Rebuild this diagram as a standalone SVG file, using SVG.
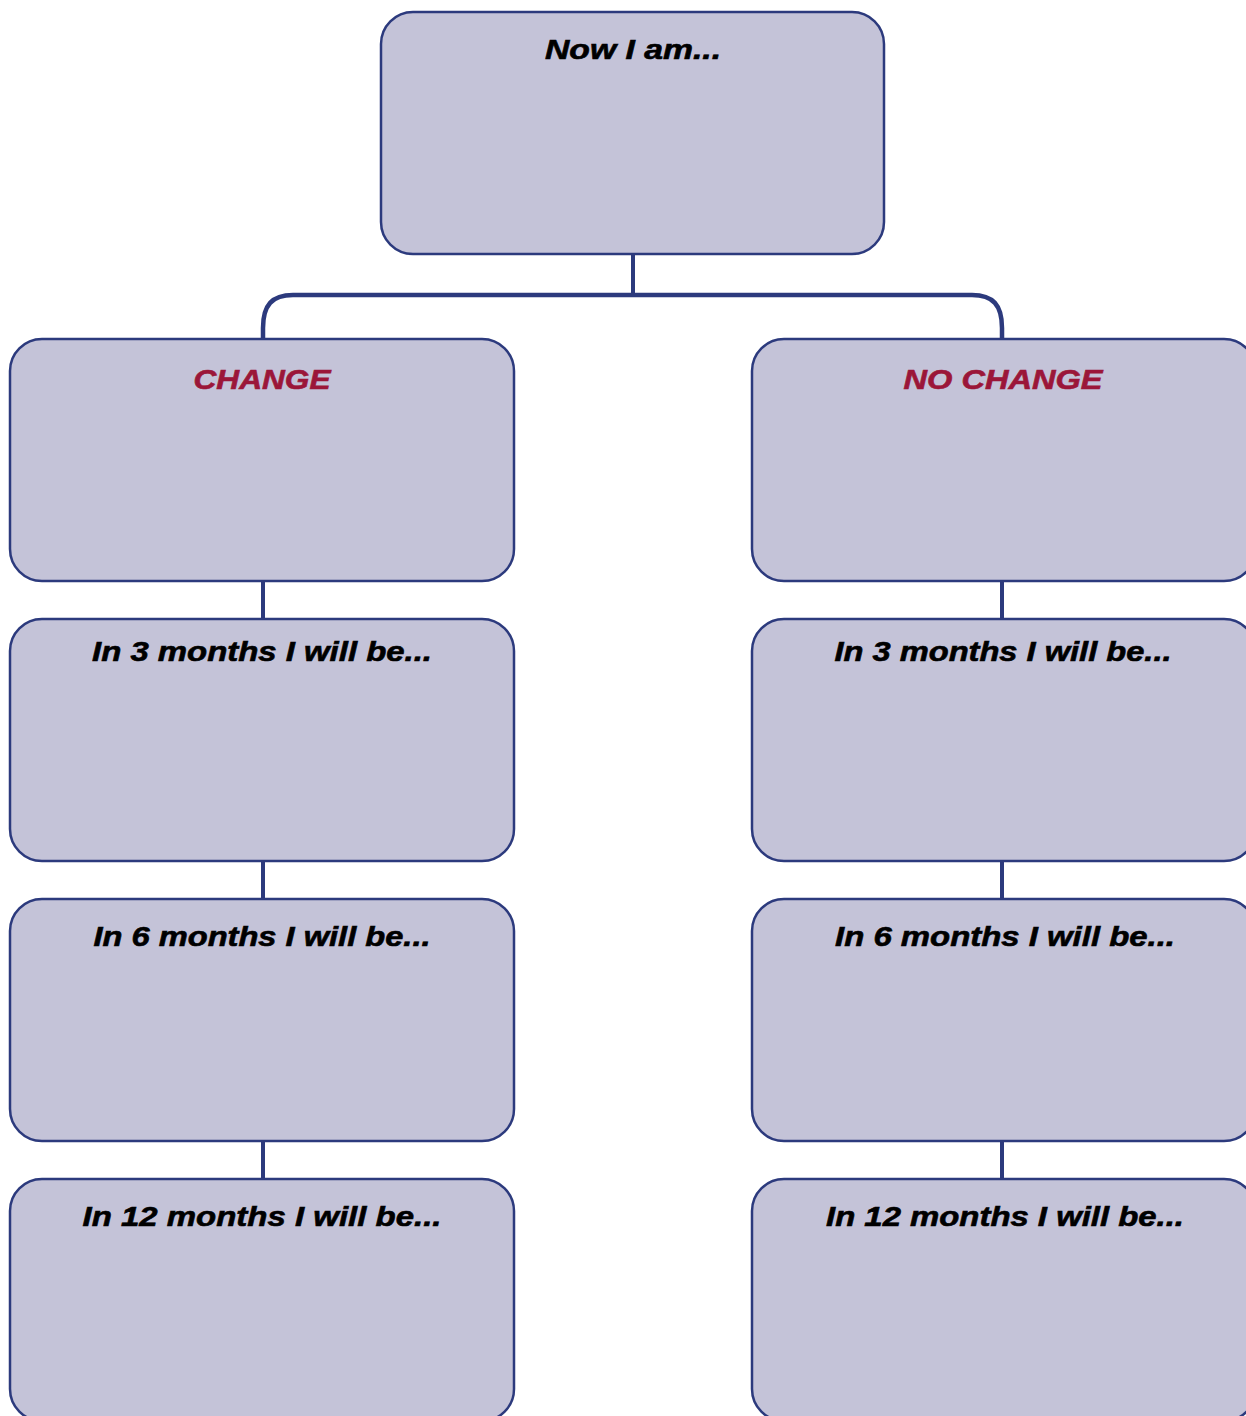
<svg xmlns="http://www.w3.org/2000/svg" width="1246" height="1416" viewBox="0 0 1246 1416">
<style>
.box{fill:#c4c3d8;stroke:#2c3a7d;stroke-width:2.5}
.conn{fill:none;stroke:#2c3a7d;stroke-width:4}
.t{font-family:"Liberation Sans",Arial,sans-serif;font-weight:bold;font-style:italic;font-size:27px;text-anchor:middle;fill:#000;stroke:#000;stroke-width:0.6}
.r{fill:#9b1639;stroke:#9b1639}
</style>
<rect width="1246" height="1416" fill="#fff"/>
<g id="connectors">
<path class="conn" d="M633 254 V295"/>
<path class="conn" style="stroke-width:4.5" d="M263 339 V328 C263 305 272 295 293 295 H972 C993 295 1002 305 1002 328 V339"/>
<path class="conn" d="M263 581 V619 M263 861 V899 M263 1141 V1179"/>
<path class="conn" d="M1002 581 V619 M1002 861 V899 M1002 1141 V1179"/>
</g>
<g id="now"><rect class="box" x="381" y="12" width="503" height="242" rx="32"/><text class="t" x="633" y="59" textLength="176" lengthAdjust="spacingAndGlyphs">Now I am...</text></g>
<g id="change"><rect class="box" x="10" y="339" width="504" height="242" rx="32"/><text class="t r" x="262" y="389" textLength="137" lengthAdjust="spacingAndGlyphs">CHANGE</text></g>
<g id="nochange"><rect class="box" x="752" y="339" width="504" height="242" rx="32"/><text class="t r" x="1003" y="389" textLength="199" lengthAdjust="spacingAndGlyphs">NO CHANGE</text></g>
<g id="c3"><rect class="box" x="10" y="619" width="504" height="242" rx="32"/><text class="t" x="262" y="661" textLength="340" lengthAdjust="spacingAndGlyphs">In 3 months I will be...</text></g>
<g id="n3"><rect class="box" x="752" y="619" width="504" height="242" rx="32"/><text class="t" x="1003" y="661" textLength="337" lengthAdjust="spacingAndGlyphs">In 3 months I will be...</text></g>
<g id="c6"><rect class="box" x="10" y="899" width="504" height="242" rx="32"/><text class="t" x="262" y="946" textLength="337" lengthAdjust="spacingAndGlyphs">In 6 months I will be...</text></g>
<g id="n6"><rect class="box" x="752" y="899" width="504" height="242" rx="32"/><text class="t" x="1005" y="946" textLength="340" lengthAdjust="spacingAndGlyphs">In 6 months I will be...</text></g>
<g id="c12"><rect class="box" x="10" y="1179" width="504" height="242" rx="32"/><text class="t" x="262" y="1226" textLength="359" lengthAdjust="spacingAndGlyphs">In 12 months I will be...</text></g>
<g id="n12"><rect class="box" x="752" y="1179" width="504" height="242" rx="32"/><text class="t" x="1005" y="1226" textLength="358" lengthAdjust="spacingAndGlyphs">In 12 months I will be...</text></g>
</svg>
